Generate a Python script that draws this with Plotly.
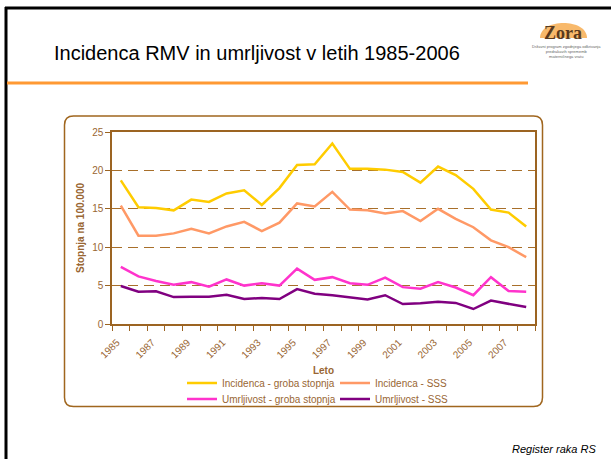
import plotly.graph_objects as go

# ---------------- data ----------------
years = list(range(1985, 2009))
inc_groba = [18.7, 15.2, 15.1, 14.8, 16.2, 15.9, 17.0, 17.4, 15.5, 17.7, 20.7, 20.8,
             23.5, 20.2, 20.2, 20.1, 19.8, 18.4, 20.5, 19.4, 17.6, 14.9, 14.5, 12.7]
inc_sss = [15.4, 11.5, 11.5, 11.8, 12.4, 11.8, 12.7, 13.3, 12.1, 13.2, 15.7, 15.3,
           17.2, 14.9, 14.8, 14.4, 14.7, 13.4, 15.0, 13.7, 12.6, 10.9, 10.0, 8.7]
umr_groba = [7.45, 6.2, 5.6, 5.1, 5.45, 4.85, 5.8, 5.0, 5.3, 5.0, 7.2, 5.75,
             6.1, 5.3, 5.1, 6.05, 4.8, 4.6, 5.45, 4.75, 3.75, 6.1, 4.3, 4.2]
umr_sss = [4.95, 4.2, 4.25, 3.5, 3.55, 3.55, 3.8, 3.25, 3.4, 3.25, 4.55, 3.95,
           3.75, 3.5, 3.2, 3.75, 2.6, 2.7, 2.9, 2.75, 1.95, 3.05, 2.6, 2.2]
series_names = ["Incidenca - groba stopnja", "Incidenca - SSS",
                "Umrljivost - groba stopnja", "Umrljivost - SSS"]
x_tickvals = list(range(1985, 2009, 2))
x_ticktext = [str(v) for v in x_tickvals]
y_tickvals = [0, 5, 10, 15, 20, 25]

# ---------------- style ----------------
W, H = 611, 459
ML, MR, MT, MB = 112, 76, 132, 135
PW, PH = W - ML - MR, H - MT - MB
FONT = "Arial, Liberation Sans, sans-serif"
BROWN = "#996633"
AXIS = "#9C6422"
colors = ["#FFCC00", "#FF9966", "#FF33CC", "#800080"]


def px(X):
    return (X - ML) / PW


def py(Y):
    return (H - MB - Y) / PH


fig = go.Figure()
all_series = [inc_groba, inc_sss, umr_groba, umr_sss]
legend_ids = ["legend", "legend", "legend2", "legend2"]
for name, vals, col, lg in zip(series_names, all_series, colors, legend_ids):
    fig.add_trace(go.Scatter(x=years, y=vals, mode="lines", name=name,
                             line=dict(color=col, width=2.5), legend=lg))

# ---------------- decorations ----------------
shapes = []
# slide border (left + top, black)
shapes.append(dict(type="line", xref="paper", yref="paper", x0=px(6), x1=px(6),
                   y0=py(7), y1=py(H + 2), line=dict(color="black", width=3)))
shapes.append(dict(type="line", xref="paper", yref="paper", x0=px(5), x1=px(W + 2),
                   y0=py(8), y1=py(8), line=dict(color="black", width=3)))
# orange line under title
shapes.append(dict(type="line", xref="paper", yref="paper", x0=px(7), x1=px(528),
                   y0=py(83), y1=py(83), line=dict(color="#FF9933", width=3)))
# rounded chart container
x0, x1, yb, yt = px(64.5), px(542.5), py(406.5), py(116)
rx, ry = 9 / PW, 9 / PH
path = (f"M {x0+rx},{yt} L {x1-rx},{yt} Q {x1},{yt} {x1},{yt-ry} "
        f"L {x1},{yb+ry} Q {x1},{yb} {x1-rx},{yb} L {x0+rx},{yb} "
        f"Q {x0},{yb} {x0},{yb+ry} L {x0},{yt-ry} Q {x0},{yt} {x0+rx},{yt} Z")
shapes.append(dict(type="path", xref="paper", yref="paper", path=path,
                   line=dict(color="#A0661E", width=1.5), layer="below"))
# logo sun (half disc)
sx0, sx1, sy0, sy1 = px(540), px(587), py(38), py(18)
sun = (f"M {sx0},{sy0} C {sx0},{sy1} {sx1},{sy1} {sx1},{sy0} Z")
shapes.append(dict(type="path", xref="paper", yref="paper", path=sun,
                   fillcolor="#F6A23A", opacity=0.75, line=dict(width=0), layer="below"))

annotations = [
    dict(text="Incidenca RMV in umrljivost v letih 1985-2006", xref="paper", yref="paper",
         x=px(52), y=py(53), xanchor="left", yanchor="middle", showarrow=False,
         font=dict(family=FONT, size=20, color="black")),
    dict(text="<b>Zora</b>", xref="paper", yref="paper", x=px(563), y=py(33),
         xanchor="center", yanchor="middle", showarrow=False,
         font=dict(family="Liberation Serif, DejaVu Serif, serif", size=18, color="#5A3A1E")),
    dict(text="Državni program zgodnjega odkrivanja<br>predrakavih sprememb<br>materničnega vratu",
         xref="paper", yref="paper", x=px(566), y=py(51), xanchor="center", yanchor="middle",
         showarrow=False, align="center",
         font=dict(family=FONT, size=4, color="#666666")),
    dict(text="<i>Register raka RS</i>", xref="paper", yref="paper", x=px(598), y=py(449),
         xanchor="right", yanchor="middle", showarrow=False,
         font=dict(family=FONT, size=11, color="black")),
]

legend_common = dict(orientation="h", xanchor="left", yanchor="middle",
                     font=dict(family=FONT, size=10, color=BROWN),
                     bgcolor="rgba(0,0,0,0)", borderwidth=0, itemwidth=30,
                     entrywidth=108, traceorder="normal", itemclick=False,
                     itemdoubleclick=False)

fig.update_layout(
    template="none",
    width=W, height=H,
    margin=dict(l=ML, r=MR, t=MT, b=MB, pad=0),
    paper_bgcolor="white", plot_bgcolor="rgba(0,0,0,0)",
    font=dict(family=FONT, size=10, color=BROWN),
    showlegend=True,
    legend=dict(x=px(182), y=py(383), **legend_common),
    legend2=dict(x=px(182), y=py(399), **legend_common),
    xaxis=dict(range=[1984.5, 2008.5], tickmode="array", tickvals=x_tickvals,
               ticktext=x_ticktext, tickangle=-45, ticks="", showgrid=False,
               zeroline=False, showline=True, linecolor=AXIS, linewidth=1.5,
               mirror=True, automargin=False, ticklabelstandoff=7, ticklabelshift=-4,
               tickfont=dict(family=FONT, size=10, color=BROWN),
               minor=dict(ticks="outside", tick0=1984.5, dtick=1, ticklen=5,
                          tickcolor=AXIS, tickwidth=1, showgrid=False),
               title=dict(text="<b>Leto</b>", standoff=8,
                          font=dict(family=FONT, size=10, color=BROWN))),
    yaxis=dict(range=[0, 25], tickmode="array", tickvals=y_tickvals, ticks="outside",
               ticklen=5, tickcolor=AXIS, showgrid=True, gridcolor="#A86F2A",
               griddash="10px,6px", gridwidth=1, zeroline=False, showline=True,
               linecolor=AXIS, linewidth=1.5, mirror=True, automargin=False,
               tickfont=dict(family=FONT, size=10, color=BROWN),
               title=dict(text="<b>Stopnja na 100.000</b>", standoff=6,
                          font=dict(family=FONT, size=10, color=BROWN))),
    shapes=shapes,
    annotations=annotations,
)

fig.write_html("out.html")
